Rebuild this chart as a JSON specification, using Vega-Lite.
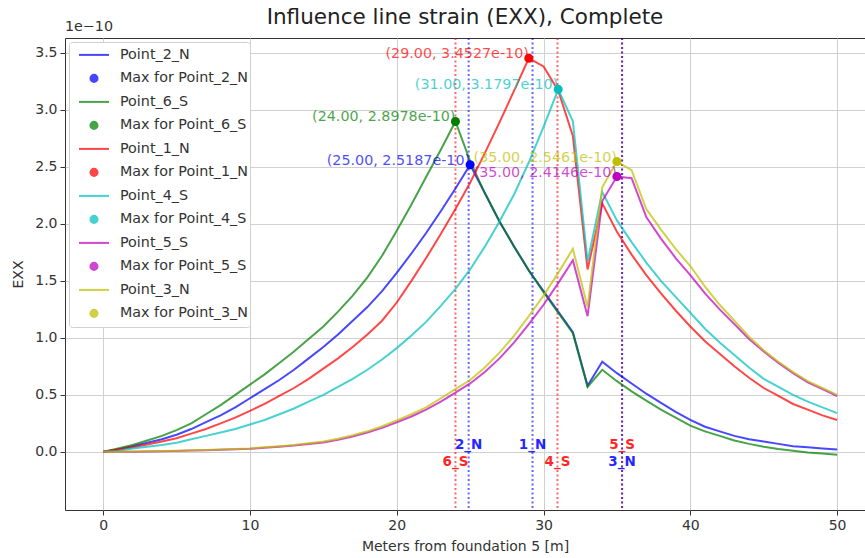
{
  "$schema": "https://vega.github.io/schema/vega-lite/v6.json",
  "width": 800,
  "height": 472,
  "autosize": {"type": "none"},
  "padding": {"left": 65, "top": 38, "right": 0, "bottom": 48},
  "background": "white",
  "title": {"text": "Influence line strain (EXX), Complete", "font": "DejaVu Sans", "fontSize": 21.5, "fontWeight": "normal", "color": "#222222", "offset": -8},
  "datasets": {
    "curves": [
      {"x":0,"Point_2_N":0,"Point_6_S":0,"Point_1_N":0,"Point_4_S":0,"Point_5_S":0,"Point_3_N":0},
      {"x":1,"Point_2_N":0.02,"Point_6_S":0.03,"Point_1_N":0.02,"Point_4_S":0.01,"Point_5_S":0,"Point_3_N":0},
      {"x":2,"Point_2_N":0.05,"Point_6_S":0.06,"Point_1_N":0.04,"Point_4_S":0.03,"Point_5_S":0.002,"Point_3_N":0.003},
      {"x":3,"Point_2_N":0.08,"Point_6_S":0.10,"Point_1_N":0.065,"Point_4_S":0.045,"Point_5_S":0.004,"Point_3_N":0.005},
      {"x":4,"Point_2_N":0.11,"Point_6_S":0.14,"Point_1_N":0.09,"Point_4_S":0.06,"Point_5_S":0.006,"Point_3_N":0.007},
      {"x":5,"Point_2_N":0.15,"Point_6_S":0.19,"Point_1_N":0.12,"Point_4_S":0.08,"Point_5_S":0.008,"Point_3_N":0.01},
      {"x":6,"Point_2_N":0.20,"Point_6_S":0.25,"Point_1_N":0.16,"Point_4_S":0.11,"Point_5_S":0.011,"Point_3_N":0.013},
      {"x":7,"Point_2_N":0.26,"Point_6_S":0.33,"Point_1_N":0.20,"Point_4_S":0.14,"Point_5_S":0.014,"Point_3_N":0.016},
      {"x":8,"Point_2_N":0.32,"Point_6_S":0.41,"Point_1_N":0.25,"Point_4_S":0.17,"Point_5_S":0.018,"Point_3_N":0.02},
      {"x":9,"Point_2_N":0.39,"Point_6_S":0.50,"Point_1_N":0.30,"Point_4_S":0.20,"Point_5_S":0.022,"Point_3_N":0.025},
      {"x":10,"Point_2_N":0.47,"Point_6_S":0.59,"Point_1_N":0.36,"Point_4_S":0.24,"Point_5_S":0.027,"Point_3_N":0.03},
      {"x":11,"Point_2_N":0.55,"Point_6_S":0.68,"Point_1_N":0.42,"Point_4_S":0.28,"Point_5_S":0.035,"Point_3_N":0.04},
      {"x":12,"Point_2_N":0.63,"Point_6_S":0.78,"Point_1_N":0.49,"Point_4_S":0.33,"Point_5_S":0.045,"Point_3_N":0.05},
      {"x":13,"Point_2_N":0.72,"Point_6_S":0.88,"Point_1_N":0.56,"Point_4_S":0.38,"Point_5_S":0.055,"Point_3_N":0.06},
      {"x":14,"Point_2_N":0.82,"Point_6_S":0.99,"Point_1_N":0.64,"Point_4_S":0.44,"Point_5_S":0.068,"Point_3_N":0.075},
      {"x":15,"Point_2_N":0.92,"Point_6_S":1.10,"Point_1_N":0.73,"Point_4_S":0.50,"Point_5_S":0.083,"Point_3_N":0.09},
      {"x":16,"Point_2_N":1.03,"Point_6_S":1.23,"Point_1_N":0.82,"Point_4_S":0.57,"Point_5_S":0.105,"Point_3_N":0.115},
      {"x":17,"Point_2_N":1.15,"Point_6_S":1.37,"Point_1_N":0.92,"Point_4_S":0.64,"Point_5_S":0.135,"Point_3_N":0.145},
      {"x":18,"Point_2_N":1.27,"Point_6_S":1.53,"Point_1_N":1.03,"Point_4_S":0.72,"Point_5_S":0.17,"Point_3_N":0.18},
      {"x":19,"Point_2_N":1.41,"Point_6_S":1.72,"Point_1_N":1.15,"Point_4_S":0.81,"Point_5_S":0.21,"Point_3_N":0.225},
      {"x":20,"Point_2_N":1.57,"Point_6_S":1.94,"Point_1_N":1.31,"Point_4_S":0.91,"Point_5_S":0.26,"Point_3_N":0.275},
      {"x":21,"Point_2_N":1.74,"Point_6_S":2.17,"Point_1_N":1.50,"Point_4_S":1.02,"Point_5_S":0.31,"Point_3_N":0.33},
      {"x":22,"Point_2_N":1.92,"Point_6_S":2.41,"Point_1_N":1.70,"Point_4_S":1.14,"Point_5_S":0.37,"Point_3_N":0.39},
      {"x":23,"Point_2_N":2.11,"Point_6_S":2.65,"Point_1_N":1.91,"Point_4_S":1.28,"Point_5_S":0.44,"Point_3_N":0.47},
      {"x":24,"Point_2_N":2.31,"Point_6_S":2.8978,"Point_1_N":2.13,"Point_4_S":1.43,"Point_5_S":0.52,"Point_3_N":0.55},
      {"x":25,"Point_2_N":2.5187,"Point_6_S":2.55,"Point_1_N":2.36,"Point_4_S":1.60,"Point_5_S":0.60,"Point_3_N":0.63},
      {"x":26,"Point_2_N":2.27,"Point_6_S":2.27,"Point_1_N":2.62,"Point_4_S":1.80,"Point_5_S":0.70,"Point_3_N":0.74},
      {"x":27,"Point_2_N":2.02,"Point_6_S":2.02,"Point_1_N":2.89,"Point_4_S":2.02,"Point_5_S":0.82,"Point_3_N":0.87},
      {"x":28,"Point_2_N":1.80,"Point_6_S":1.80,"Point_1_N":3.17,"Point_4_S":2.26,"Point_5_S":0.96,"Point_3_N":1.02},
      {"x":29,"Point_2_N":1.59,"Point_6_S":1.59,"Point_1_N":3.4527,"Point_4_S":2.54,"Point_5_S":1.12,"Point_3_N":1.19},
      {"x":30,"Point_2_N":1.41,"Point_6_S":1.40,"Point_1_N":3.38,"Point_4_S":2.85,"Point_5_S":1.29,"Point_3_N":1.37},
      {"x":31,"Point_2_N":1.23,"Point_6_S":1.22,"Point_1_N":3.17,"Point_4_S":3.1797,"Point_5_S":1.48,"Point_3_N":1.57},
      {"x":32,"Point_2_N":1.05,"Point_6_S":1.04,"Point_1_N":2.77,"Point_4_S":2.90,"Point_5_S":1.68,"Point_3_N":1.78},
      {"x":33,"Point_2_N":0.58,"Point_6_S":0.57,"Point_1_N":1.60,"Point_4_S":1.67,"Point_5_S":1.19,"Point_3_N":1.27},
      {"x":34,"Point_2_N":0.79,"Point_6_S":0.72,"Point_1_N":2.18,"Point_4_S":2.28,"Point_5_S":2.20,"Point_3_N":2.32},
      {"x":35,"Point_2_N":0.69,"Point_6_S":0.62,"Point_1_N":1.93,"Point_4_S":2.03,"Point_5_S":2.4146,"Point_3_N":2.5461},
      {"x":36,"Point_2_N":0.60,"Point_6_S":0.53,"Point_1_N":1.73,"Point_4_S":1.84,"Point_5_S":2.40,"Point_3_N":2.47},
      {"x":37,"Point_2_N":0.51,"Point_6_S":0.45,"Point_1_N":1.55,"Point_4_S":1.66,"Point_5_S":2.06,"Point_3_N":2.13},
      {"x":38,"Point_2_N":0.43,"Point_6_S":0.37,"Point_1_N":1.39,"Point_4_S":1.50,"Point_5_S":1.87,"Point_3_N":1.95},
      {"x":39,"Point_2_N":0.35,"Point_6_S":0.30,"Point_1_N":1.24,"Point_4_S":1.36,"Point_5_S":1.70,"Point_3_N":1.78},
      {"x":40,"Point_2_N":0.28,"Point_6_S":0.23,"Point_1_N":1.10,"Point_4_S":1.22,"Point_5_S":1.55,"Point_3_N":1.63},
      {"x":41,"Point_2_N":0.22,"Point_6_S":0.18,"Point_1_N":0.97,"Point_4_S":1.08,"Point_5_S":1.39,"Point_3_N":1.45},
      {"x":42,"Point_2_N":0.18,"Point_6_S":0.14,"Point_1_N":0.86,"Point_4_S":0.96,"Point_5_S":1.25,"Point_3_N":1.29},
      {"x":43,"Point_2_N":0.14,"Point_6_S":0.10,"Point_1_N":0.75,"Point_4_S":0.85,"Point_5_S":1.12,"Point_3_N":1.15},
      {"x":44,"Point_2_N":0.11,"Point_6_S":0.07,"Point_1_N":0.65,"Point_4_S":0.74,"Point_5_S":0.99,"Point_3_N":1.01},
      {"x":45,"Point_2_N":0.09,"Point_6_S":0.045,"Point_1_N":0.56,"Point_4_S":0.64,"Point_5_S":0.88,"Point_3_N":0.89},
      {"x":46,"Point_2_N":0.07,"Point_6_S":0.025,"Point_1_N":0.49,"Point_4_S":0.57,"Point_5_S":0.78,"Point_3_N":0.79},
      {"x":47,"Point_2_N":0.05,"Point_6_S":0.01,"Point_1_N":0.42,"Point_4_S":0.50,"Point_5_S":0.69,"Point_3_N":0.70},
      {"x":48,"Point_2_N":0.04,"Point_6_S":-0.005,"Point_1_N":0.37,"Point_4_S":0.44,"Point_5_S":0.61,"Point_3_N":0.62},
      {"x":49,"Point_2_N":0.03,"Point_6_S":-0.015,"Point_1_N":0.32,"Point_4_S":0.39,"Point_5_S":0.55,"Point_3_N":0.56},
      {"x":50,"Point_2_N":0.02,"Point_6_S":-0.025,"Point_1_N":0.28,"Point_4_S":0.34,"Point_5_S":0.49,"Point_3_N":0.50}
    ],
    "peaks": [
      {"x":25,"y":2.5187,"s":"Max for Point_2_N","label":"(25.00, 2.5187e-10)"},
      {"x":24,"y":2.8978,"s":"Max for Point_6_S","label":"(24.00, 2.8978e-10)"},
      {"x":29,"y":3.4527,"s":"Max for Point_1_N","label":"(29.00, 3.4527e-10)"},
      {"x":31,"y":3.1797,"s":"Max for Point_4_S","label":"(31.00, 3.1797e-10)"},
      {"x":35,"y":2.4146,"s":"Max for Point_5_S","label":"(35.00, 2.4146e-10)"},
      {"x":35,"y":2.5461,"s":"Max for Point_3_N","label":"(35.00, 2.5461e-10)"}
    ],
    "sensors": [
      {"x":24.0,"name":"6_S","side":"S","pos":"lower"},
      {"x":24.9,"name":"2_N","side":"N","pos":"upper"},
      {"x":29.25,"name":"1_N","side":"N","pos":"upper"},
      {"x":30.95,"name":"4_S","side":"S","pos":"lower"},
      {"x":35.35,"name":"5_S","side":"S","pos":"upper"},
      {"x":35.35,"name":"3_N","side":"N","pos":"lower"}
    ]
  },
  "layer": [
    {
      "data": {"name": "sensors"},
      "transform": [{"filter": "datum.side === 'S'"}],
      "mark": {"type": "rule", "strokeWidth": 2, "strokeDash": [2, 2.5], "opacity": 0.6, "color": "#ff0000"},
      "encoding": {"x": {"field": "x", "type": "quantitative"}}
    },
    {
      "data": {"name": "sensors"},
      "transform": [{"filter": "datum.side === 'N'"}],
      "mark": {"type": "rule", "strokeWidth": 2, "strokeDash": [2, 2.5], "opacity": 0.6, "color": "#0000ff"},
      "encoding": {"x": {"field": "x", "type": "quantitative"}}
    },
    {
      "data": {"name": "curves"},
      "transform": [{"fold": ["Point_2_N", "Point_6_S", "Point_1_N", "Point_4_S", "Point_5_S", "Point_3_N"], "as": ["s", "y"]}],
      "mark": {"type": "line", "strokeWidth": 2, "opacity": 0.72},
      "encoding": {
        "x": {"field": "x", "type": "quantitative", "scale": {"domain": [-2.6, 51.9], "nice": false, "zero": false},
              "axis": {"values": [0, 10, 20, 30, 40, 50], "format": "d", "title": "Meters from foundation 5 [m]", "titlePadding": 7}},
        "y": {"field": "y", "type": "quantitative", "scale": {"domain": [-0.51, 3.63], "nice": false, "zero": false},
              "axis": {"values": [0, 0.5, 1, 1.5, 2, 2.5, 3, 3.5], "format": ".1f", "title": "EXX", "titlePadding": 9}},
        "color": {
          "field": "s", "type": "nominal",
          "scale": {
            "domain": ["Point_2_N", "Max for Point_2_N", "Point_6_S", "Max for Point_6_S", "Point_1_N", "Max for Point_1_N", "Point_4_S", "Max for Point_4_S", "Point_5_S", "Max for Point_5_S", "Point_3_N", "Max for Point_3_N"],
            "range": ["#0000ff", "#0000ff", "#008000", "#008000", "#ff0000", "#ff0000", "#00bfbf", "#00bfbf", "#bf00bf", "#bf00bf", "#bfbf00", "#bfbf00"]
          },
          "legend": {
            "title": null, "orient": "top-left", "offset": 4, "padding": 2,
            "fillColor": "white", "strokeColor": "#d0d0d0", "cornerRadius": 3,
            "labelFont": "DejaVu Sans", "labelFontSize": 14.3, "labelColor": "#333333", "labelLimit": 300,
            "symbolStrokeWidth": 2, "rowPadding": 1.5, "clipHeight": 21.8,
            "symbolOffset": 7, "labelOffset": 10
          }
        },
        "order": {"field": "x", "type": "quantitative"}
      }
    },
    {
      "data": {"name": "peaks"},
      "mark": {"type": "point", "filled": true, "strokeWidth": 2, "opacity": 1},
      "encoding": {
        "x": {"field": "x", "type": "quantitative"},
        "y": {"field": "y", "type": "quantitative"},
        "color": {"field": "s", "type": "nominal"},
        "stroke": {
          "field": "s", "type": "nominal",
          "scale": {
            "domain": ["Point_2_N", "Max for Point_2_N", "Point_6_S", "Max for Point_6_S", "Point_1_N", "Max for Point_1_N", "Point_4_S", "Max for Point_4_S", "Point_5_S", "Max for Point_5_S", "Point_3_N", "Max for Point_3_N"],
            "range": ["#0000ff", "#0000ff", "#008000", "#008000", "#ff0000", "#ff0000", "#00bfbf", "#00bfbf", "#bf00bf", "#bf00bf", "#bfbf00", "#bfbf00"]
          }
        },
        "shape": {
          "field": "s", "type": "nominal",
          "scale": {
            "domain": ["Point_2_N", "Max for Point_2_N", "Point_6_S", "Max for Point_6_S", "Point_1_N", "Max for Point_1_N", "Point_4_S", "Max for Point_4_S", "Point_5_S", "Max for Point_5_S", "Point_3_N", "Max for Point_3_N"],
            "range": ["stroke", "circle", "stroke", "circle", "stroke", "circle", "stroke", "circle", "stroke", "circle", "stroke", "circle"]
          }
        },
        "size": {
          "field": "s", "type": "nominal",
          "scale": {
            "type": "ordinal",
            "domain": ["Point_2_N", "Max for Point_2_N", "Point_6_S", "Max for Point_6_S", "Point_1_N", "Max for Point_1_N", "Point_4_S", "Max for Point_4_S", "Point_5_S", "Max for Point_5_S", "Point_3_N", "Max for Point_3_N"],
            "range": [900, 50, 900, 50, 900, 50, 900, 50, 900, 50, 900, 50]
          }
        }
      }
    },
    {
      "data": {"name": "peaks"},
      "mark": {"type": "text", "align": "right", "baseline": "alphabetic", "font": "DejaVu Sans", "fontSize": 14.3, "opacity": 0.7},
      "encoding": {
        "x": {"field": "x", "type": "quantitative"},
        "y": {"field": "y", "type": "quantitative"},
        "text": {"field": "label"},
        "color": {"field": "s", "type": "nominal"}
      }
    },
    {
      "data": {"name": "sensors"},
      "transform": [{"filter": "datum.pos === 'upper'"}],
      "mark": {"type": "text", "dy": -7, "font": "DejaVu Sans", "fontSize": 13.5, "fontWeight": "bold", "opacity": 0.85},
      "encoding": {
        "x": {"field": "x", "type": "quantitative"},
        "y": {"datum": 0},
        "text": {"field": "name"},
        "fill": {"field": "side", "type": "nominal", "scale": {"domain": ["N", "S"], "range": ["#0000ff", "#ff0000"]}, "legend": null}
      }
    },
    {
      "data": {"name": "sensors"},
      "transform": [{"filter": "datum.pos === 'lower'"}],
      "mark": {"type": "text", "dy": 10, "font": "DejaVu Sans", "fontSize": 13.5, "fontWeight": "bold", "opacity": 0.85},
      "encoding": {
        "x": {"field": "x", "type": "quantitative"},
        "y": {"datum": 0},
        "text": {"field": "name"},
        "fill": {"field": "side", "type": "nominal", "scale": {"domain": ["N", "S"], "range": ["#0000ff", "#ff0000"]}, "legend": null}
      }
    },
    {
      "data": {"values": [{"t": "1e−10"}]},
      "mark": {"type": "text", "align": "left", "baseline": "bottom", "dy": -4, "font": "DejaVu Sans", "fontSize": 14.3, "color": "#333333"},
      "encoding": {
        "x": {"datum": -2.6},
        "y": {"datum": 3.63},
        "text": {"field": "t"}
      }
    }
  ],
  "config": {
    "view": {"stroke": "#333333", "strokeWidth": 1},
    "font": "DejaVu Sans",
    "axis": {
      "grid": true, "gridColor": "#d0d0d0", "gridWidth": 1, "domain": false,
      "tickColor": "#333333", "tickSize": 5, "tickWidth": 1,
      "labelFont": "DejaVu Sans", "labelFontSize": 14, "labelColor": "#333333", "labelPadding": 3,
      "titleFont": "DejaVu Sans", "titleFontSize": 14, "titleFontWeight": "normal", "titleColor": "#333333"
    }
  }
}
